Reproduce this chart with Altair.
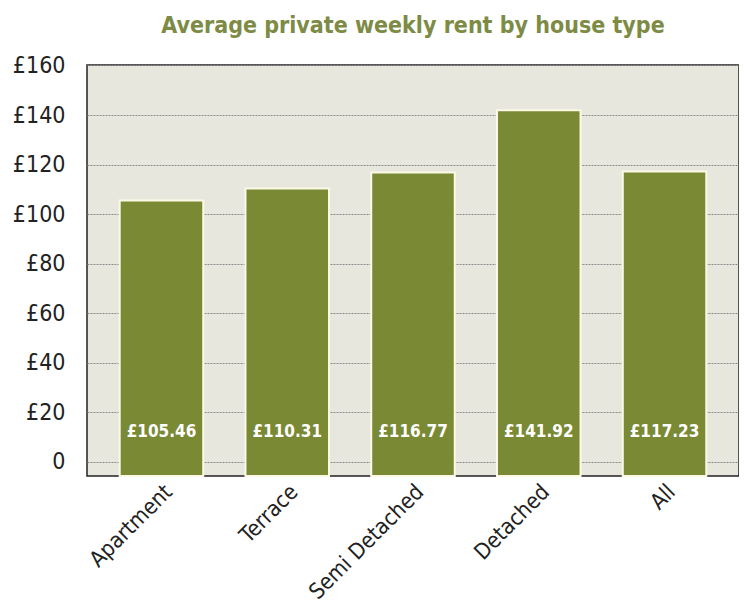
import altair as alt
import pandas as pd

house_types = ["Apartment", "Terrace", "Semi Detached", "Detached", "All"]
weekly_rent = [105.46, 110.31, 116.77, 141.92, 117.23]
y_ticks = [0, 20, 40, 60, 80, 100, 120, 140, 160]

df = pd.DataFrame({"type": house_types, "rent": weekly_rent})

FONT = "Liberation Sans Narrow, DejaVu Sans Condensed, Roboto Condensed, sans-serif"
OLIVE = "#7a8934"

x_enc = alt.X(
    "type:N",
    sort=house_types,
    scale=alt.Scale(paddingInner=0.336, paddingOuter=0.26, align=0.5),
    axis=alt.Axis(
        title=None,
        labelAngle=-45,
        labelAlign="right",
        labelBaseline="middle",
        labelFontSize=22,
        labelFont=FONT,
        labelColor="#222222",
        labelPadding=12,
        labelOffset=7,
        ticks=False,
        domain=False,
    ),
)

y_scale = alt.Scale(domain=[-5.8, 160.2], nice=False, zero=False)

bars = alt.Chart(df).mark_bar(
    color=OLIVE, stroke="#fbf9e6", strokeWidth=2
).encode(
    x=x_enc,
    y=alt.Y(
        "rent:Q",
        scale=y_scale,
        axis=alt.Axis(
            title=None,
            values=y_ticks,
            labelExpr="datum.value == 0 ? '0' : '£' + datum.value",
            labelFontSize=23,
            labelFont=FONT,
            labelColor="#222222",
            labelPadding=22,
            ticks=False,
            domain=False,
            grid=True,
            gridColor="#8c8c8c",
            gridDash=[2, 1],
            gridWidth=1,
        ),
    ),
    y2=alt.datum(-5.8),
)

labels = alt.Chart(df).transform_calculate(
    label="'£' + format(datum.rent, '.2f')"
).mark_text(
    color="white", fontWeight="bold", fontSize=17, font=FONT, baseline="middle"
).encode(
    x=alt.X("type:N", sort=house_types),
    y=alt.datum(12),
    text="label:N",
)

chart = (
    alt.layer(bars, labels)
    .properties(
        width=652,
        height=411,
        padding={"left": 79, "top": 57, "right": 0, "bottom": 140},
        autosize="none",
        title=alt.TitleParams(
            "Average private weekly rent by house type",
            font=FONT,
            fontSize=23,
            fontWeight="bold",
            color="#7d8b45",
            anchor="middle",
            offset=16,
        ),
        background="white",
    )
    .configure_view(fill="#e8e7dd", stroke="#222222", strokeWidth=1.5)
)

chart.save("out.html", embed_options={"renderer": "svg", "actions": False})
